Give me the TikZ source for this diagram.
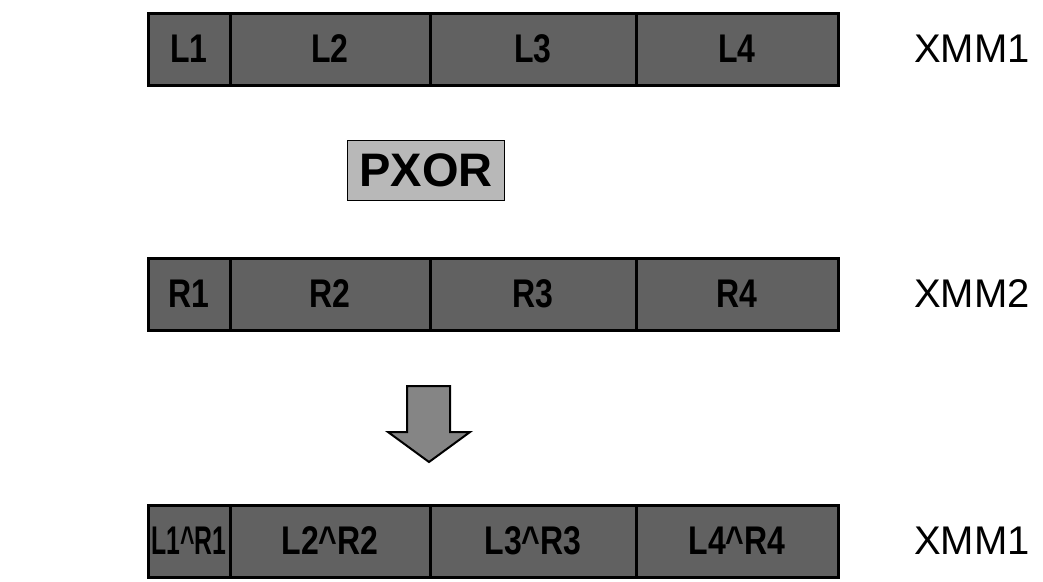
\documentclass[tikz,border=0pt]{standalone}
\usepackage{graphicx}
\usepackage{fontspec}
\setmainfont{Liberation Sans}
\usetikzlibrary{positioning}
\newcommand{\narrowtext}[2]{\scalebox{#1}[1]{#2}}
\tikzset{
  cell/.style={draw=black, line width=3pt, fill=black!62, inner sep=0pt,
    minimum height=72pt, font=\bfseries\fontsize{40}{40}\selectfont},
  reglabel/.style={anchor=west, inner sep=0pt, font=\fontsize{40}{40}\selectfont},
  opbox/.style={draw=black, line width=1pt, fill=black!28, inner sep=0pt,
    minimum width=157pt, minimum height=60pt, font=\bfseries\fontsize{47}{47}\selectfont},
  blockarrow/.style={draw=black, line width=2pt, fill=black!48, line join=miter}
}
\begin{document}
\begin{tikzpicture}[x=1pt,y=-1pt]
  \useasboundingbox (0,0) rectangle (1043,581);
  % the two source registers and the result
  \foreach \cx/\cw/\n/\os in {189/82/1/0.62, 330/200/2/0.8, 533/206/3/0.8, 737/202/4/0.8} {
    \node[cell, minimum width=\cw pt] (l\n) at (\cx,49) {\narrowtext{0.8}{L\n}};
    \node[cell, minimum width=\cw pt] (r\n) at (\cx,294) {\narrowtext{0.8}{R\n}};
    \node[cell, minimum width=\cw pt] (o\n) at (\cx,541)
      {\narrowtext{\os}{L\n\textasciicircum R\n}};
  }
  \node[reglabel] (xmma) at (914,49) {XMM1};
  \node[reglabel] (xmmb) at (914,294) {XMM2};
  \node[reglabel] (xmmc) at (914,541) {XMM1};
  % the operation
  \node[opbox] (pxor) at (426,170) {PXOR};
  \draw[blockarrow] (407,386) -- (450,386) -- (450,432) -- (470,432)
    -- (429,462) -- (388,432) -- (407,432) -- cycle;
\end{tikzpicture}
\end{document}
